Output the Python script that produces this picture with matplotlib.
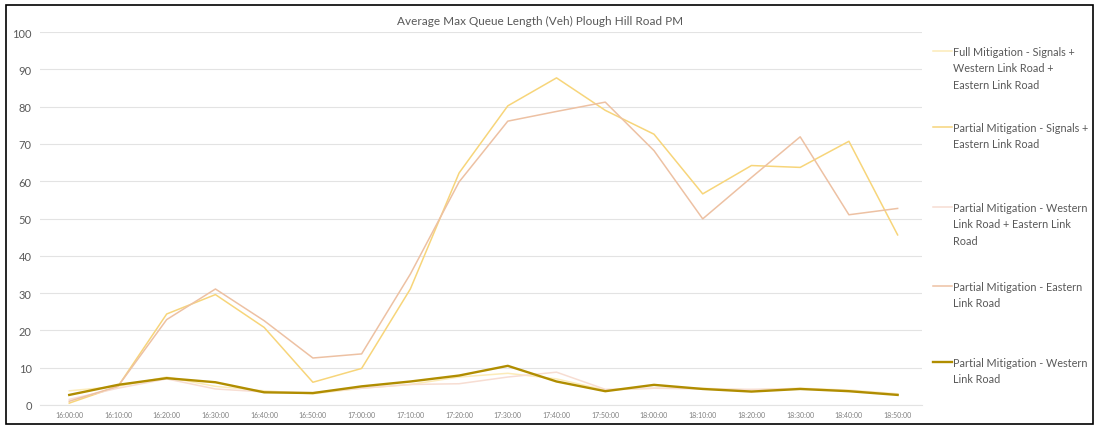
import matplotlib
matplotlib.use("Agg")
import matplotlib.pyplot as plt
from matplotlib.lines import Line2D
from matplotlib.patches import Rectangle

# Dados
times = ["16:00:00", "16:10:00", "16:20:00", "16:30:00", "16:40:00", "16:50:00",
         "17:00:00", "17:10:00", "17:20:00", "17:30:00", "17:40:00", "17:50:00",
         "18:00:00", "18:10:00", "18:20:00", "18:30:00", "18:40:00", "18:50:00"]

full_mitigation = [3.8, 5.0, 7.5, 5.0, 3.8, 3.0, 4.5, 5.5, 7.5, 8.5, 7.0, 4.0,
                   4.5, 4.5, 4.0, 4.5, 4.0, 3.0]
signals_eastern = [0.5, 5.0, 24.4, 29.6, 20.8, 6.1, 9.8, 31.1, 62.2, 80.2, 87.7, 79.0,
                   72.6, 56.6, 64.2, 63.7, 70.7, 45.6]
western_eastern = [1.5, 4.5, 7.0, 4.3, 3.5, 3.3, 4.5, 5.5, 5.7, 7.5, 8.8, 4.2,
                   4.5, 4.3, 4.2, 4.4, 3.8, 2.8]
eastern_only = [1.0, 5.0, 22.9, 31.1, 22.6, 12.6, 13.7, 35.1, 59.8, 76.1, 78.7, 81.2,
                68.2, 49.9, 61.0, 71.9, 51.0, 52.7]
western_only = [2.7, 5.4, 7.2, 6.1, 3.4, 3.2, 5.0, 6.3, 7.9, 10.5, 6.3, 3.7,
                5.4, 4.3, 3.6, 4.3, 3.7, 2.7]

labels = ["Full Mitigation - Signals +\nWestern Link Road +\nEastern Link Road",
          "Partial Mitigation - Signals +\nEastern Link Road",
          "Partial Mitigation - Western\nLink Road + Eastern Link\nRoad",
          "Partial Mitigation - Eastern\nLink Road",
          "Partial Mitigation - Western\nLink Road"]
colors = ["#FCEBB8", "#F7D57A", "#F7DDD2", "#EDC1A3", "#B08D00"]
widths = [1.1, 1.1, 1.1, 1.1, 1.7]
series = [full_mitigation, signals_eastern, western_eastern, eastern_only, western_only]

plt.rcParams['font.family'] = ['Lato', 'DejaVu Sans']
grey = "#595959"

fig = plt.figure(figsize=(10.97, 4.27), dpi=100)
ax = fig.add_axes([40 / 1097, 21 / 427, 882 / 1097, 373 / 427])

x = list(range(len(times)))
for vals, col, lw, lab in zip(series, colors, widths, labels):
    ax.plot(x, vals, color=col, linewidth=lw, label=lab, solid_joinstyle="round")

ax.set_xlim(-0.6, 17.5)
ax.set_ylim(0, 100)
ax.set_yticks(range(0, 101, 10))
ax.set_xticks(x)
ax.set_xticklabels(times, fontsize=5, color="#7f7f7f")
ax.tick_params(axis="y", labelsize=8, colors=grey, length=0, pad=6)
ax.tick_params(axis="x", length=0, pad=4)
ax.grid(axis="y", color="#E3E3E3", linewidth=0.8)
ax.set_axisbelow(True)
for s in ["top", "right", "left"]:
    ax.spines[s].set_visible(False)
ax.spines["bottom"].set_color("#E3E3E3")
ax.spines["bottom"].set_linewidth(0.8)

fig.text(540 / 1097, 1 - 21 / 427, "Average Max Queue Length (Veh) Plough Hill Road PM",
         ha="center", va="center", fontsize=8.5, color=grey)

# Legenda manual (linha ao lado da primeira linha do texto)
leg_y = [52, 128, 208, 287, 363]
for yy, col, lw, lab in zip(leg_y, colors, widths, labels):
    yf = 1 - yy / 427
    fig.add_artist(Line2D([933 / 1097, 952 / 1097], [yf, yf], transform=fig.transFigure,
                          color=col, linewidth=lw))
    fig.text(953 / 1097, yf + 5 / 427, lab, ha="left", va="top", fontsize=7.8,
             color=grey, linespacing=1.6)

# Moldura externa
fig.add_artist(Rectangle((6 / 1097, 2 / 427), 1087 / 1097, 419 / 427,
                         transform=fig.transFigure, fill=False, edgecolor="black",
                         linewidth=1.2))

fig.savefig("out.png", dpi=100)
